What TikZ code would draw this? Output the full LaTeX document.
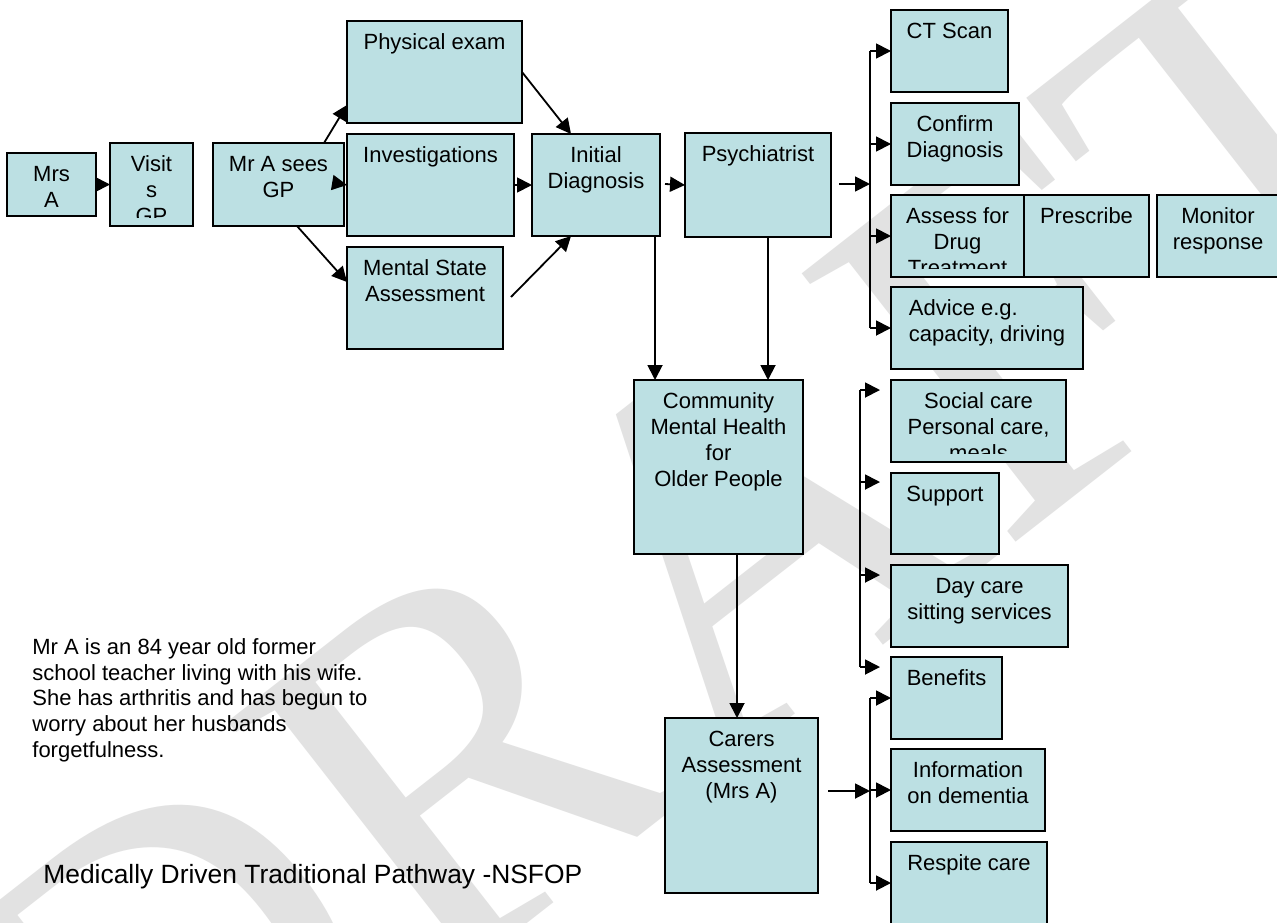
\documentclass[tikz,border=0pt]{standalone}
\usepackage{fontspec}
\setmainfont{Liberation Sans}
\newfontfamily\wmfont{Liberation Serif}
\usetikzlibrary{arrows.meta,calc}
\definecolor{boxfill}{RGB}{188,224,227}
\definecolor{wmgray}{RGB}{226,226,226}
\tikzset{
  box/.style={draw=black, line width=0.9pt, fill=boxfill, inner sep=0pt, outer sep=0pt, anchor=north west},
  txt/.style={font=\fontsize{11}{13}\selectfont, align=center, inner sep=0pt, anchor=north,
    minimum width=0pt, minimum height=0pt, draw=none, fill=none},
  arr/.style={line width=0.9pt, -{Triangle[length=7.5pt,width=7.5pt]}},
  ln/.style={line width=0.9pt},
  para/.style={font=\fontsize{11}{12.9}\selectfont, align=left, inner sep=0pt, anchor=north west},
}
% [text options], name, x1, y1, x2, y2, text
\newcommand\bx[7][]{%
  \node[box, minimum width={(#5-#3)*0.5pt}, minimum height={(#6-#4)*0.5pt},
    path picture={%
      \clip ([yshift=4.5pt]path picture bounding box.south west) rectangle (path picture bounding box.north east);
      \node[txt,#1] at ([yshift=-6.5pt]path picture bounding box.north) {#7};}]
    (#2) at (#3,#4) {};}
\begin{document}
\begin{tikzpicture}[x=0.5pt, y=-0.5pt]
\clip (0,0) rectangle (1277,922);
\fill[white] (0,0) rectangle (1277,922);
% watermark
\node[font=\wmfont\fontsize{262}{262}\selectfont, text=wmgray, rotate=38, inner sep=0pt] (wmk) at (700,570) {DRAFT};

% boxes
\bx{mrsa}{7}{153}{96}{216}{Mrs\\A}
\bx{vis}{110}{143}{193}{226}{Visit\\s\\GP}
\bx{mra}{213}{143}{344}{226}{Mr A sees\\GP}
\bx{pe}{347}{21}{522}{123}{Physical exam}
\bx{inv}{347}{134}{514}{236}{Investigations}
\bx{msa}{347}{247}{503}{349}{Mental State\\Assessment}
\bx{id}{532}{134}{660}{236}{Initial\\Diagnosis}
\bx{psy}{685}{133}{831}{237}{Psychiatrist}
\bx{ct}{891}{10}{1008}{92}{CT Scan}
\bx{cd}{891}{103}{1019}{185}{Confirm\\Diagnosis}
\bx{adt}{891}{195}{1024}{277}{Assess for\\Drug\\Treatment}
\bx{pr}{1024}{195}{1149}{277}{Prescribe}
\bx{mon}{1157}{195}{1279}{277}{Monitor\\response}
\bx[align=left]{adv}{891}{287}{1083}{369}{Advice e.g.\\capacity, driving}
\bx{cm}{634}{380}{803}{554}{Community\\Mental Health\\for\\Older People}
\bx{sc}{891}{380}{1066}{462}{Social care\\Personal care,\\meals}
\bx{sup}{891}{473}{999}{554}{Support}
\bx{dc}{891}{565}{1068}{647}{Day care\\sitting services}
\bx{ben}{891}{657}{1002}{739}{Benefits}
\bx{car}{665}{718}{818}{893}{Carers\\Assessment\\(Mrs A)}
\bx{inf}{891}{749}{1045}{831}{Information\\on dementia}
\bx{res}{891}{842}{1047}{924}{Respite care}

% helper coordinates
\coordinate (s1) at (324,143);
\coordinate (e1) at (347,105);
\coordinate (s2) at (297,226);
\coordinate (e2) at (347,282);
\coordinate (s3) at (511,297);
\coordinate (xi) at (571,0);
\coordinate (s4) at (665,184);
\coordinate (s5) at (839,184);
\coordinate (b1) at (870,184);
\coordinate (xa) at (655,0);
\coordinate (xb) at (768,0);
\coordinate (xc) at (737,0);
\coordinate (b2) at (860,0);
\coordinate (t1) at (880,390);
\coordinate (t2) at (880,482);
\coordinate (t3) at (880,575);
\coordinate (t4) at (880,667);
\coordinate (s6) at (828,791);
\coordinate (b3) at (870,791);

% connectors
\draw[arr] (mrsa.east) -- (vis.west);
\draw[arr] (mra.east) -- (inv.west);
\draw[arr] (s1) -- (e1);
\draw[arr] (s2) -- (e2);
\draw[arr] (pe.east) -- (xi |- id.north);
\draw[arr] (inv.east) -- (id.west);
\draw[arr] (s3) -- (xi |- id.south);
\draw[arr] (s4) -- (psy.west);
\draw[arr] (s5) -- (b1);
\draw[ln] (b1 |- ct.west) -- (b1 |- adv.west);
\foreach \n in {ct,cd,adt,adv} \draw[arr] (b1 |- \n.west) -- (\n.west);
\draw[arr] (xa |- id.south) -- (xa |- cm.north);
\draw[arr] (xb |- psy.south) -- (xb |- cm.north);
\draw[arr] (xc |- cm.south) -- (xc |- car.north);
\draw[ln] (b2 |- t1) -- (b2 |- t4);
\foreach \t in {t1,t2,t3,t4} \draw[arr] (b2 |- \t) -- (\t);
\draw[arr] (s6) -- (b3);
\draw[ln] (b3 |- ben.west) -- (b3 |- res.west);
\foreach \n in {ben,inf,res} \draw[arr] (b3 |- \n.west) -- (\n.west);

% texts
\node[para] (story) at (32,638) {Mr A is an 84 year old former\\school teacher living with his wife.\\She has arthritis and has begun to\\worry about her husbands\\forgetfulness.};
\node[font=\fontsize{13.2}{15}\selectfont, inner sep=0pt, anchor=base west] (title) at (43,883) {Medically Driven Traditional Pathway -NSFOP};
\end{tikzpicture}
\end{document}
